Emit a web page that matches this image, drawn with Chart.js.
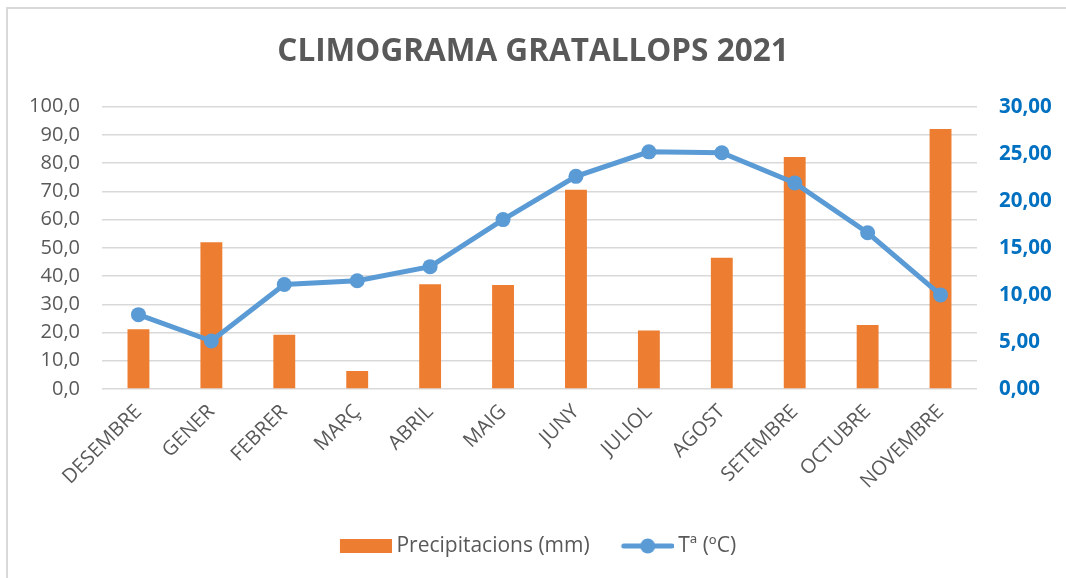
<!DOCTYPE html>
<html>
<head>
<meta charset="utf-8">
<script src="https://cdn.jsdelivr.net/npm/chart.js@4/dist/chart.umd.min.js"></script>
<style>
  html, body { margin: 0; padding: 0; background: #fff; overflow: hidden; }
  #wrap { position: relative; width: 1066px; height: 578px; }
  #frame { position: absolute; left: 6px; top: 7px; width: 1100px; height: 600px;
           border-left: 2px solid #d9d9d9; border-top: 2px solid #d9d9d9; pointer-events: none; }
  canvas { position: absolute; left: 0; top: 0; }
</style>
</head>
<body>
<div id="wrap">
  <canvas id="c" width="1066" height="578"></canvas>
  <div id="frame"></div>
</div>
<script>
const months = ['DESEMBRE','GENER','FEBRER','MARÇ','ABRIL','MAIG','JUNY','JULIOL','AGOST','SETEMBRE','OCTUBRE','NOVEMBRE'];
const precipitacions = [21.2, 52.0, 19.2, 6.4, 37.1, 36.8, 70.6, 20.7, 46.5, 82.2, 22.7, 92.1];
const temperatura = [7.9, 5.1, 11.1, 11.5, 13.0, 18.0, 22.6, 25.2, 25.1, 21.9, 16.6, 10.0];
const precipTickLabels = ['0,0','10,0','20,0','30,0','40,0','50,0','60,0','70,0','80,0','90,0','100,0'];
const tempTickLabels = ['0,00','5,00','10,00','15,00','20,00','25,00','30,00'];
const seriesNames = ['Precipitacions (mm)', 'Tª (ºC)'];

const ORANGE = '#ED7D31';
const BLUE = '#5B9BD5';
const GREY = '#595959';
const FONT = '"Open Sans", sans-serif';

function makeIcon(kind) {
  const cv = document.createElement('canvas');
  cv.width = 68; cv.height = 18;
  const g = cv.getContext('2d');
  if (kind === 'bar') {
    g.fillStyle = ORANGE;
    g.fillRect(16, 2, 52, 14);
  } else {
    g.strokeStyle = BLUE; g.lineWidth = 5; g.lineCap = 'round';
    g.beginPath(); g.moveTo(18, 9); g.lineTo(66, 9); g.stroke();
    g.fillStyle = BLUE;
    g.beginPath(); g.arc(42, 9, 7.5, 0, Math.PI * 2); g.fill();
  }
  return cv;
}
const icons = [makeIcon('bar'), makeIcon('line')];

new Chart(document.getElementById('c'), {
  type: 'bar',
  data: {
    labels: months,
    datasets: [
      {
        type: 'bar',
        label: seriesNames[0],
        data: precipitacions,
        backgroundColor: ORANGE,
        borderWidth: 0,
        yAxisID: 'y',
        order: 1,
        barPercentage: 0.3,
        categoryPercentage: 1.0
      },
      {
        type: 'line',
        label: seriesNames[1],
        data: temperatura,
        borderColor: BLUE,
        backgroundColor: BLUE,
        borderWidth: 5,
        pointRadius: 7.5,
        pointBackgroundColor: BLUE,
        pointBorderWidth: 0,
        tension: 0,
        yAxisID: 'y1',
        order: 0
      }
    ]
  },
  options: {
    responsive: false,
    animation: false,
    layout: { padding: { left: 0, right: 0, top: 0, bottom: 11.5 } },
    plugins: {
      tooltip: { enabled: false },
      title: {
        display: true,
        text: 'CLIMOGRAMA GRATALLOPS 2021',
        color: GREY,
        font: { family: FONT, size: 31.5, weight: 'bold', lineHeight: 1.2 },
        padding: { top: 33, bottom: 35.9 }
      },
      legend: {
        display: true,
        position: 'bottom',
        labels: {
          usePointStyle: true,
          pointStyleWidth: 56,
          boxHeight: 21,
          padding: 22,
          color: GREY,
          font: { family: FONT, size: 21 },
          generateLabels: (chart) => seriesNames.map((name, i) => ({
            text: name,
            pointStyle: icons[i],
            fillStyle: i === 0 ? ORANGE : BLUE,
            strokeStyle: i === 0 ? ORANGE : BLUE,
            lineWidth: 0,
            hidden: false,
            datasetIndex: i,
            fontColor: GREY
          }))
        }
      }
    },
    scales: {
      x: {
        offset: true,
        grid: { display: false },
        border: { display: false },
        ticks: {
          color: GREY,
          font: { family: FONT, size: 20 },
          minRotation: 45,
          maxRotation: 45,
          padding: 3,
          autoSkip: false
        },
        afterFit: (s) => { s.height = 124.5; }
      },
      y: {
        position: 'left',
        min: 0, max: 100,
        ticks: {
          stepSize: 10,
          color: GREY,
          font: { family: FONT, size: 20 },
          padding: 22,
          callback: (v, i) => precipTickLabels[i]
        },
        grid: { color: '#d9d9d9', lineWidth: 1.5, drawTicks: false },
        border: { display: false },
        afterFit: (s) => { s.width = 102; }
      },
      y1: {
        position: 'right',
        min: 0, max: 30,
        ticks: {
          stepSize: 5,
          color: '#0070C0',
          font: { family: FONT, size: 20.5, weight: 'bold' },
          padding: 22,
          callback: (v, i) => tempTickLabels[i]
        },
        grid: { display: false, drawTicks: false },
        border: { display: false },
        afterFit: (s) => { s.width = 89; }
      }
    }
  }
});
</script>
</body>
</html>
